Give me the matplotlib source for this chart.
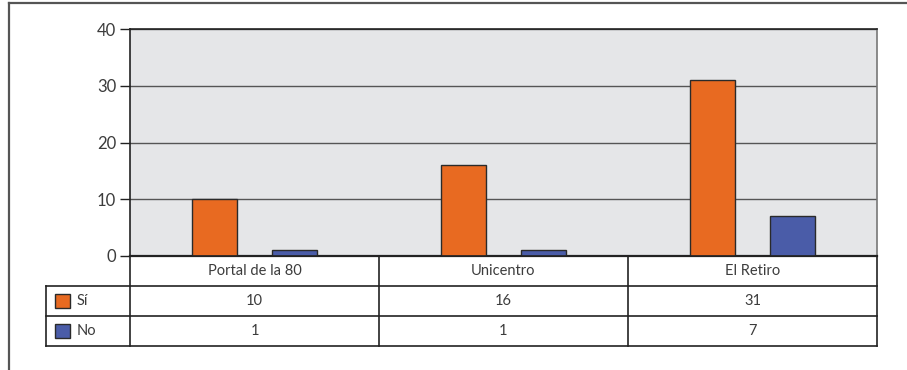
import matplotlib
matplotlib.use("Agg")
import matplotlib.pyplot as plt
from matplotlib.patches import Rectangle
from matplotlib.lines import Line2D
import matplotlib.transforms as mtransforms
import numpy as np

categories = ["Portal de la 80", "Unicentro", "El Retiro"]
series_names = ["Sí", "No"]
si_values = [10, 16, 31]
no_values = [1, 1, 7]
y_ticks = [0, 10, 20, 30, 40]

colors = ["#E86A21", "#4A5CA8"]
text_color = "#3c3c3c"

plt.rcParams["font.family"] = ["Lato", "DejaVu Sans"]

W, H = 907, 370
fig = plt.figure(figsize=(W / 100, H / 100), dpi=100)

# plot area in pixel coordinates
px_left, px_right, px_top, px_bottom = 130, 877, 29, 256
ax = fig.add_axes([px_left / W, 1 - px_bottom / H,
                   (px_right - px_left) / W, (px_bottom - px_top) / H])
ax.set_facecolor("#E5E6E8")

x = np.arange(len(categories))
offset, width = 0.16, 0.18
for vals, dx, c in zip([si_values, no_values], [-offset, offset], colors):
    ax.bar(x + dx, vals, width=width, color=c, edgecolor="#2a2a2a",
           linewidth=1.0, zorder=3)

ax.set_xlim(-0.5, len(categories) - 0.5)
ax.set_ylim(0, 40)
ax.set_yticks(y_ticks)
ax.set_yticklabels([str(v) for v in y_ticks], fontsize=12, color=text_color)
ax.set_xticks([])
ax.yaxis.grid(True, color="#555555", linewidth=1.0, zorder=1)
ax.set_axisbelow(True)
ax.tick_params(axis="y", length=7, width=1.0, color="#222222", pad=3)
for side in ["top", "left", "bottom"]:
    ax.spines[side].set_color("#222222")
    ax.spines[side].set_linewidth(1.2)
ax.spines["right"].set_color("#777777")
ax.spines["right"].set_linewidth(1.2)
ax.spines["bottom"].set_linewidth(1.6)

# data table below the plot area
trans_fig_px = mtransforms.Affine2D().scale(1 / W, 1 / H) + fig.transFigure

def fy(y):
    return H - y

row_edges = [256, 286, 316, 346]
col_edges_px = [46, 130] + [px_left + (px_right - px_left) * (i + 1) / len(categories)
                            for i in range(len(categories))]
col_centers_px = [px_left + (px_right - px_left) * (i + 0.5) / len(categories)
                  for i in range(len(categories))]
line_kw = dict(color="#222222", linewidth=1.2, transform=trans_fig_px)

# horizontal lines
fig.add_artist(Line2D([130, 877], [fy(row_edges[0])] * 2, **line_kw))
for r in row_edges[1:]:
    fig.add_artist(Line2D([46, 877], [fy(r)] * 2, **line_kw))
# vertical lines
fig.add_artist(Line2D([46, 46], [fy(286), fy(346)], **line_kw))
for cx in col_edges_px[1:]:
    fig.add_artist(Line2D([cx, cx], [fy(256), fy(346)], **line_kw))

# header
for cx, name in zip(col_centers_px, categories):
    fig.text(cx, fy(271), name, transform=trans_fig_px, ha="center",
             va="center", fontsize=10.5, color=text_color)

# series rows
for i, (name, vals, c) in enumerate(zip(series_names, [si_values, no_values], colors)):
    yc = (row_edges[i + 1] + row_edges[i + 2]) / 2
    fig.add_artist(Rectangle((55, fy(yc) - 7), 15, 14, facecolor=c,
                             edgecolor="#2a2a2a", linewidth=1.0,
                             transform=trans_fig_px))
    fig.text(77, fy(yc), name, transform=trans_fig_px, ha="left",
             va="center", fontsize=10.5, color=text_color)
    for cx, v in zip(col_centers_px, vals):
        fig.text(cx, fy(yc), str(v), transform=trans_fig_px, ha="center",
                 va="center", fontsize=10.5, color=text_color)

# outer frame (top and left edges)
frame_kw = dict(color="#555555", linewidth=1.6, transform=trans_fig_px)
fig.add_artist(Line2D([9, W], [fy(2.5), fy(2.5)], **frame_kw))
fig.add_artist(Line2D([9, 9], [fy(2.5), 0], **frame_kw))

fig.savefig("out.png", dpi=100)
